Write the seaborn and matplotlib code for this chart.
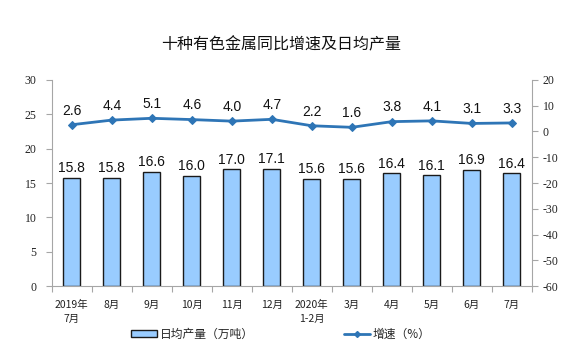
import numpy as np
import pandas as pd
import matplotlib
matplotlib.use("Agg")
import matplotlib.pyplot as plt
import seaborn as sns
from matplotlib.patches import Patch
from matplotlib.lines import Line2D

categories = ["2019年\n7月", "8月", "9月", "10月", "11月", "12月", "2020年\n1-2月",
              "3月", "4月", "5月", "6月", "7月"]
output = [15.8, 15.8, 16.6, 16.0, 17.0, 17.1, 15.6, 15.6, 16.4, 16.1, 16.9, 16.4]
growth = [2.6, 4.4, 5.1, 4.6, 4.0, 4.7, 2.2, 1.6, 3.8, 4.1, 3.1, 3.3]
left_ticks = [0, 5, 10, 15, 20, 25, 30]
right_ticks = [-60, -50, -40, -30, -20, -10, 0, 10, 20]

sns.set_theme(style="white")
plt.rcParams['font.family'] = ['Noto Sans CJK SC', 'DejaVu Sans']
plt.rcParams['axes.unicode_minus'] = False

BAR = "#99CCFF"
LINE = "#2E75B6"
GRAY = "#A6A6A6"

fig = plt.figure(figsize=(5.75, 3.55), dpi=100)
ax = fig.add_axes([0.090, 0.194, 0.835, 0.581])

df = pd.DataFrame({"cat": categories, "val": output})
sns.barplot(data=df, x="cat", y="val", ax=ax, color=BAR, width=0.42,
            edgecolor="#1a1a1a", linewidth=1.0, saturation=1)
ax.set_xlim(-0.5, len(categories) - 0.5)
ax.set_ylim(0, 30)
ax.set_yticks(left_ticks)
ax.set_xlabel("")
ax.set_ylabel("")
for i, v in enumerate(output):
    ax.text(i, v + 0.4, f"{v:.1f}", ha="center", va="bottom", fontsize=10,
            family="Liberation Sans", color="#111111")

ax2 = ax.twinx()
sns.lineplot(x=np.arange(len(growth)), y=growth, ax=ax2, color=LINE,
             marker="D", markersize=4, linewidth=2, markeredgecolor=LINE)
ax2.set_ylim(-60, 20)
ax2.set_yticks(right_ticks)
for i, v in enumerate(growth):
    ax2.text(i, v + 2.8, f"{v:.1f}", ha="center", va="bottom", fontsize=10,
             family="Liberation Sans", color="#111111")

for a in (ax, ax2):
    for s in a.spines.values():
        s.set_color(GRAY)
        s.set_linewidth(0.8)
    a.spines["top"].set_visible(False)

ax.spines["right"].set_visible(False)
ax2.spines["left"].set_visible(False)
ax2.spines["bottom"].set_visible(False)

ax.tick_params(axis="y", which="major", left=True, length=4, color=GRAY, width=0.8,
               labelsize=8.5, pad=7, labelcolor="#222222")
for t in ax.get_yticklabels():
    t.set_family("Liberation Serif")
ax2.tick_params(axis="y", right=True, length=4, color=GRAY, width=0.8,
                labelsize=8.5, pad=4, labelcolor="#222222")
for t in ax2.get_yticklabels():
    t.set_family("Liberation Serif")

ax.set_xticks(np.arange(len(categories)))
ax.set_xticklabels(categories, fontsize=7.5, linespacing=1.5)
ax.tick_params(axis="x", which="major", bottom=False, pad=4, labelcolor="#222222")
ax.set_xticks(np.arange(-0.5, len(categories), 1), minor=True)
ax.tick_params(axis="x", which="minor", bottom=True, length=4, color=GRAY, width=0.8)
for t in ax.get_xticklabels():
    t.set_va("top")

fig.text(0.489, 0.873, "十种有色金属同比增速及日均产量", ha="center", va="center",
         fontsize=11.5, color="#111111")

h1 = [Patch(facecolor=BAR, edgecolor="#1a1a1a", linewidth=1.0)]
h2 = [Line2D([0], [0], color=LINE, linewidth=2, marker="D", markersize=3)]
leg1 = fig.legend(h1, ["日均产量（万吨）"], loc="center left",
                  bbox_to_anchor=(0.228, 0.058), frameon=False, fontsize=8.5,
                  handlelength=2.2, handleheight=0.55, handletextpad=0.25,
                  borderpad=0, borderaxespad=0)
leg2 = fig.legend(h2, ["增速（%）"], loc="center left",
                  bbox_to_anchor=(0.598, 0.058), frameon=False, fontsize=8.5,
                  handlelength=2.2, handletextpad=0.25, borderpad=0, borderaxespad=0)

fig.savefig("out.png", dpi=100)
